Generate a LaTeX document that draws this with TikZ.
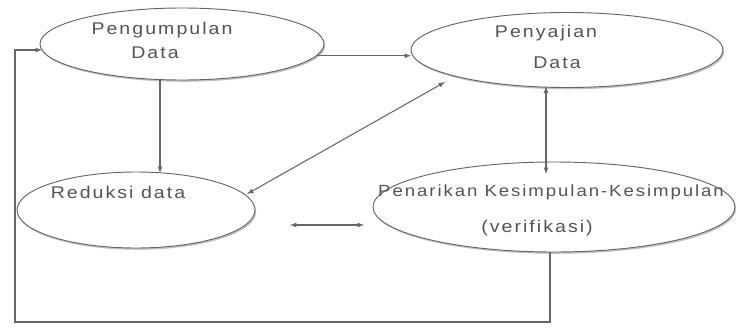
\documentclass[tikz,border=0pt]{standalone}
\usepackage{fontspec}
\setmainfont{Liberation Sans}[FakeStretch=1.15, LetterSpace=12]
\usetikzlibrary{calc}
\usetikzlibrary{shapes.geometric}
\usetikzlibrary{shadows}
\definecolor{linegray}{gray}{0.4}
\definecolor{textgray}{gray}{0.33}

\begin{document}
\begin{tikzpicture}[x=0.03cm, y=-0.03cm,
  every node/.style={font=\fontsize{14.5}{16}\selectfont, text=textgray},
  oval/.style={ellipse, draw=linegray, line width=0.8pt, inner sep=0pt, outer sep=0pt, fill=white,
    drop shadow={shadow xshift=1pt, shadow yshift=-1.5pt, fill=gray!70, opacity=0.7}},
  arr/.style={draw=linegray, line width=0.9pt, -latex},
  darr/.style={draw=linegray, line width=0.9pt, latex-latex}]
\useasboundingbox (0,0) rectangle (736,331);
\node[oval, minimum width=8.52cm, minimum height=2.16cm] (pd) at (182,44) {};
\node[oval, minimum width=9.36cm, minimum height=2.25cm] (sd) at (567,50) {};
\node[oval, minimum width=7.14cm, minimum height=2.28cm] (rd) at (136,210) {};
\node[oval, minimum width=10.86cm, minimum height=2.7cm] (kv) at (554,207) {};
\node (pd1) at (162,30) {Pengumpulan};
\node (pd2) at (155,53) {Data};
\node (sd1) at (546,33) {Penyajian};
\node (sd2) at (557,63) {Data};
\node (rd1) at (118,192) {Reduksi data};
\node[anchor=west, inner sep=0pt, font=\fontsize{13.8}{16}\selectfont] (kv1) at (378,192) {Penarikan Kesimpulan-Kesimpulan};
\node (kv2) at (537,228) {(verifikasi)};
\coordinate (c1) at (290,225);
\coordinate (c2) at (364,225);
\coordinate (c3) at (15,322);
\draw[arr] (pd.-5) -- (pd.-5 -| sd.west);
\draw[arr] ($(pd.south)+(-22,0)$) -- ($(rd.north)+(24,1)$);
\draw[darr] ($(rd.center)+(111,-16)$) -- ($(sd.center)+(-122,32)$);
\draw[darr] ($(sd.south)+(-21,-1)$) -- ($(kv.north)+(-8,12)$);
\draw[darr] (c1) -- (c2);
\draw[arr] ($(kv.south)+(-4,0)$) |- (c3) |- ($(pd.west)+(2,6)$);
\end{tikzpicture}
\end{document}
